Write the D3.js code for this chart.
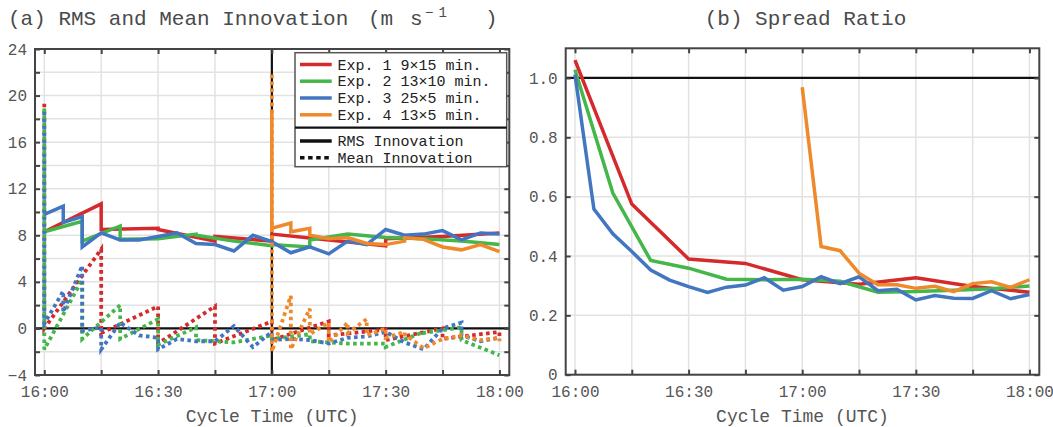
<!DOCTYPE html>
<html>
<head>
<meta charset="utf-8">
<script src="https://cdn.jsdelivr.net/npm/d3@7/dist/d3.min.js"></script>
<style>
  body { margin: 0; background: #fff; }
  svg { display: block; font-family: "Liberation Mono", "DejaVu Sans Mono", monospace; }
</style>
</head>
<body>
<div id="chart"></div>
<script>
// Data: times are minutes after 16:00 UTC
var times1 = [0, 15, 30, 45, 60, 75, 90, 105, 120];
var times2 = [0, 10, 20, 30, 40, 50, 60, 70, 80, 90, 100, 110, 120];
var times3 = [0, 5, 10, 15, 20, 25, 30, 35, 40, 45, 50, 55, 60, 65, 70, 75, 80, 85, 90, 95, 100, 105, 110, 115, 120];
var times4 = [60, 65, 70, 75, 80, 85, 90, 95, 100, 105, 110, 115, 120];

// RMS innovation, prior and posterior at each cycle (m/s); null = not plotted
var rms1Prior = [null, 10.7, 8.6, 7.5, 7.5, 7.6, 7.1, 7.9, 8.2];
var rms1Post  = [8.3, 8.5, 8.5, 7.9, 8.1, 7.6, 7.7, 7.9, 8.2];
var rms2Prior = [null, 9.2, 8.8, 7.7, 8.1, 7.5, 7.1, 7.0, 8.1, 7.8, 7.7, 7.5, 7.2];
var rms2Post  = [8.3, 7.5, 7.65, 7.7, 8.0, 7.5, 7.2, 7.6, 8.1, 7.8, 7.7, 7.5, 7.2];
var rms3Prior = [null, 10.5, 9.6, 8.2, 7.6, 7.6, 7.9, 8.2, 7.3, 7.2, 6.65, 8.0, 7.45, 6.5, 7.0, 6.4, 7.5, 7.2, 8.5, 8.0, 8.1, 8.4, 7.6, 8.2, 8.1];
var rms3Post  = [9.8, 9.1, 7.0, 8.2, 7.6, 7.6, 7.9, 8.2, 7.3, 7.2, 6.65, 8.0, 7.45, 6.5, 7.0, 6.4, 7.5, 7.2, 8.5, 8.0, 8.1, 8.4, 7.6, 8.2, 8.1];
var rms4Prior = [18.7, 9.05, 8.6, 7.7, 7.8, 7.3, 7.2, 7.5, 7.65, 7.0, 6.75, 7.2, 6.6];
var rms4Post  = [8.6, 8.3, 8.0, 7.7, 7.8, 7.3, 7.2, 7.8, 7.65, 7.0, 6.75, 7.2, 6.6];

// Mean innovation, prior and posterior (m/s)
var mean1Prior = [19.3, 6.8, 1.9, 1.9, 0.6, 0.6, -0.1, 0.0, -0.3];
var mean1Post  = [0.0, -0.4, -1.3, -1.3, -1.0, -0.6, -1.0, -0.9, -1.0];
var mean2Prior = [18.9, 4.2, 2.0, 0.8, 0.1, -1.2, -0.6, -0.5, -1.3, -1.3, -0.3, 0.1, -2.3];
var mean2Post  = [-1.8, -0.9, -0.9, -1.4, -1.0, -1.2, -0.9, -1.1, -1.3, -1.6, -0.4, -1.0, -2.3];
var mean3Prior = [18.9, 3.2, 5.4, 0.1, 0.5, -0.6, -0.8, -0.9, -1.1, -1.1, 0.2, -1.6, -0.3, -0.9, -1.0, -1.3, -0.8, -0.7, -0.3, -1.2, -1.8, 0.0, 0.5, -1.1, -0.8];
var mean3Post  = [0.4, 1.4, -0.2, -1.8, 0.5, -0.6, -1.8, -0.9, -1.1, -1.1, 0.2, -1.6, -1.0, -0.9, -1.0, -1.3, -0.8, -0.7, -0.3, -1.2, -1.8, 0.0, -0.6, -1.1, -0.8];
var mean4Prior = [21.8, 2.8, 1.7, 0.5, 0.5, 0.8, 0.0, -0.3, -1.7, -0.9, -0.6, -1.0, -0.8];
var mean4Post  = [-2.0, -1.8, -0.5, -1.2, -0.4, -0.6, -0.8, -0.5, -1.7, -0.9, -0.6, -1.0, -1.1];

// Spread ratio
var spread1 = [1.06, 0.575, 0.39, 0.375, 0.32, 0.305, 0.327, 0.297, 0.278];
var spread2 = [1.028, 0.612, 0.385, 0.359, 0.322, 0.32, 0.322, 0.315, 0.278, 0.28, 0.285, 0.29, 0.299];
var spread3 = [1.012, 0.558, 0.475, 0.415, 0.353, 0.319, 0.297, 0.277, 0.295, 0.302, 0.327, 0.285, 0.297, 0.33, 0.307, 0.33, 0.283, 0.288, 0.252, 0.267, 0.258, 0.257, 0.283, 0.256, 0.27];
var spread4 = [0.969, 0.432, 0.418, 0.342, 0.303, 0.303, 0.291, 0.298, 0.28, 0.307, 0.313, 0.294, 0.32];

var expNames = ["Exp. 1 9\u00d715 min.", "Exp. 2 13\u00d710 min.", "Exp. 3 25\u00d75 min.", "Exp. 4 13\u00d75 min."];
var expColors = ["#d42a2c", "#45b649", "#4276c0", "#ee8a2c"];
var xTicks = [0, 15, 30, 45, 60, 75, 90, 105, 120];
var leftYTicks = [-4, -2, 0, 2, 4, 6, 8, 10, 12, 14, 16, 18, 20, 22, 24];
var rightYTicks = [0, 0.2, 0.4, 0.6, 0.8, 1.0];

// Configuration
var width = 1053, height = 427;
var frameColor = "#444";
var textColor = "#555";
var gridColor = "#e2e2e2";
var lineWidth = 3.5;
var dots = "3.6,3.4";
var dotOffsets = [0, 0, 3.5, 0];   // so the stacked 16:00 spikes alternate colours

var svg = d3.select("#chart").append("svg")
    .attr("width", width)
    .attr("height", height);

var leftX = d3.scaleLinear().domain([-2.45, 122.6]).range([35, 509.3]);
var leftY = d3.scaleLinear().domain([-4, 24]).range([375, 49]);
var rightX = d3.scaleLinear().domain([-2.45, 122.6]).range([565.7, 1039.3]);
var rightY = d3.scaleLinear().domain([0, 1.1]).range([374.7, 48.3]);

function timeLabel(m) {
    if (m % 30 != 0) return "";
    var h = 16 + Math.floor(m / 60);
    var mm = m % 60;
    return h + ":" + (mm < 10 ? "0" + mm : mm);
}

/**
 * Build a sawtooth series: prior then posterior at each cycle time
 */
function sawtooth(times, prior, post) {
    var pts = [];
    for (var i = 0; i < times.length; i++) {
        if (prior[i] != null) pts.push([times[i], prior[i]]);
        pts.push([times[i], post[i]]);
    }
    return pts;
}

function simple(times, vals) {
    return times.map(function(t, i) { return [t, vals[i]]; });
}

/**
 * Light grid of one panel
 */
function drawGrid(g, x, y, yTicks) {
    var x0 = x.range()[0], x1 = x.range()[1];
    var y0 = y.range()[1], y1 = y.range()[0];

    g.append("g")
        .selectAll("line")
        .data(xTicks)
        .enter().append("line")
        .attr("x1", function(d) { return x(d); })
        .attr("x2", function(d) { return x(d); })
        .attr("y1", y0).attr("y2", y1)
        .attr("stroke", gridColor).attr("stroke-width", 1.5);

    g.append("g")
        .selectAll("line")
        .data(yTicks)
        .enter().append("line")
        .attr("x1", x0).attr("x2", x1)
        .attr("y1", function(d) { return y(d); })
        .attr("y2", function(d) { return y(d); })
        .attr("stroke", gridColor).attr("stroke-width", 1.5);
}

/**
 * Frame, inward ticks on all four sides, tick labels and x label
 */
function drawAxes(g, x, y, yTicks, yLabel) {
    var x0 = x.range()[0], x1 = x.range()[1];
    var y0 = y.range()[1], y1 = y.range()[0];

    g.append("rect")
        .attr("x", x0).attr("y", y0)
        .attr("width", x1 - x0).attr("height", y1 - y0)
        .attr("fill", "none")
        .attr("stroke", frameColor).attr("stroke-width", 2);

    var axes = [
        g.append("g").attr("transform", "translate(0," + y1 + ")")
            .call(d3.axisBottom(x).tickValues(xTicks).tickSize(-5).tickPadding(11).tickFormat(timeLabel)),
        g.append("g").attr("transform", "translate(0," + y0 + ")")
            .call(d3.axisTop(x).tickValues(xTicks).tickSize(-5).tickFormat("")),
        g.append("g").attr("transform", "translate(" + x0 + ",0)")
            .call(d3.axisLeft(y).tickValues(yTicks).tickSize(-5).tickPadding(8).tickFormat(yLabel)),
        g.append("g").attr("transform", "translate(" + x1 + ",0)")
            .call(d3.axisRight(y).tickValues(yTicks).tickSize(-5).tickFormat(""))
    ];
    axes.forEach(function(a) {
        a.select(".domain").remove();
        a.selectAll(".tick line").attr("stroke", frameColor).attr("stroke-width", 2);
        a.selectAll(".tick text")
            .attr("fill", textColor)
            .style("font-family", "'Liberation Mono', monospace")
            .style("font-size", "16px");
    });

    g.append("text")
        .attr("x", (x0 + x1) / 2)
        .attr("y", 422)
        .attr("text-anchor", "middle")
        .attr("fill", textColor)
        .style("font-size", "18px")
        .text("Cycle Time (UTC)");
}

function drawSeries(g, x, y, pts, color, dashed, offset) {
    var line = d3.line()
        .x(function(d) { return x(d[0]); })
        .y(function(d) { return y(d[1]); });
    g.append("path")
        .datum(pts)
        .attr("d", line)
        .attr("fill", "none")
        .attr("stroke", color)
        .attr("stroke-width", dashed ? 3.8 : lineWidth)
        .attr("stroke-linejoin", "miter")
        .attr("stroke-dasharray", dashed ? dots : null)
        .attr("stroke-dashoffset", dashed ? offset : null);
}

// ---------- Panel (a) ----------
var leftG = svg.append("g").attr("id", "panelA");
drawGrid(leftG, leftX, leftY, leftYTicks);

// reference lines at 0 and 17:00
leftG.append("line")
    .attr("x1", leftX.range()[0]).attr("x2", leftX.range()[1])
    .attr("y1", leftY(0)).attr("y2", leftY(0))
    .attr("stroke", "#111").attr("stroke-width", 2.2);
leftG.append("line")
    .attr("x1", leftX(60)).attr("x2", leftX(60))
    .attr("y1", leftY.range()[1]).attr("y2", leftY.range()[0])
    .attr("stroke", "#111").attr("stroke-width", 2.2);

var rmsSets = [
    sawtooth(times1, rms1Prior, rms1Post),
    sawtooth(times2, rms2Prior, rms2Post),
    sawtooth(times3, rms3Prior, rms3Post),
    sawtooth(times4, rms4Prior, rms4Post)
];
var meanSets = [
    sawtooth(times1, mean1Prior, mean1Post),
    sawtooth(times2, mean2Prior, mean2Post),
    sawtooth(times3, mean3Prior, mean3Post),
    sawtooth(times4, mean4Prior, mean4Post)
];
// each experiment: RMS first, then its mean on top
for (var i = 0; i < 4; i++) {
    drawSeries(leftG, leftX, leftY, rmsSets[i], expColors[i], false);
    drawSeries(leftG, leftX, leftY, meanSets[i], expColors[i], true, dotOffsets[i]);
}

drawAxes(leftG, leftX, leftY, leftYTicks, function(d) {
    return d % 4 == 0 ? (d < 0 ? "\u2212" + (-d) : "" + d) : "";
});

// legend
var legendG = leftG.append("g").attr("id", "legend");
legendG.append("rect")
    .attr("x", 295).attr("y", 52.7)
    .attr("width", 211.7).attr("height", 114)
    .attr("fill", "#fff")
    .attr("stroke", "#555").attr("stroke-width", 1.5);
legendG.append("line")
    .attr("x1", 295).attr("x2", 506.7)
    .attr("y1", 127.7).attr("y2", 127.7)
    .attr("stroke", "#111").attr("stroke-width", 2.2);

var legendRows = [
    { label: expNames[0], color: expColors[0], dash: null, y: 64.5 },
    { label: expNames[1], color: expColors[1], dash: null, y: 81.2 },
    { label: expNames[2], color: expColors[2], dash: null, y: 98 },
    { label: expNames[3], color: expColors[3], dash: null, y: 114.8 },
    { label: "RMS Innovation", color: "#111", dash: null, y: 141 },
    { label: "Mean Innovation", color: "#111", dash: "4.5,3.6", y: 157.7 }
];
var rowG = legendG.selectAll(".legendRow")
    .data(legendRows)
    .enter().append("g")
    .attr("class", "legendRow");
rowG.append("line")
    .attr("x1", 300).attr("x2", 331.7)
    .attr("y1", function(d) { return d.y; })
    .attr("y2", function(d) { return d.y; })
    .attr("stroke", function(d) { return d.color; })
    .attr("stroke-width", 3.5)
    .attr("stroke-dasharray", function(d) { return d.dash; });
rowG.append("text")
    .attr("x", 337.5)
    .attr("y", function(d) { return d.y; })
    .attr("dy", "0.35em")
    .attr("fill", "#222")
    .style("font-size", "15px")
    .text(function(d) { return d.label; });

// title (a), unit part spaced out as in the original
var titleA = svg.append("text")
    .attr("x", 8)
    .attr("y", 25)
    .attr("fill", "#4a4a4a")
    .style("font-size", "21px");
titleA.append("tspan").text("(a) RMS and Mean Innovation");
titleA.append("tspan").attr("x", 368).text("(m");
titleA.append("tspan").attr("x", 410).text("s");
titleA.append("tspan").attr("x", 425).attr("dy", -8).style("font-size", "14px").style("letter-spacing", "5px").text("\u22121");
titleA.append("tspan").attr("x", 485).attr("dy", 8).text(")");

// ---------- Panel (b) ----------
var rightG = svg.append("g").attr("id", "panelB");
drawGrid(rightG, rightX, rightY, rightYTicks);

rightG.append("line")
    .attr("x1", rightX.range()[0]).attr("x2", rightX.range()[1])
    .attr("y1", rightY(1)).attr("y2", rightY(1))
    .attr("stroke", "#111").attr("stroke-width", 2.2);

var spreadSets = [
    simple(times1, spread1),
    simple(times2, spread2),
    simple(times3, spread3),
    simple(times4, spread4)
];
for (var i = 0; i < 4; i++) {
    drawSeries(rightG, rightX, rightY, spreadSets[i], expColors[i], false);
}

drawAxes(rightG, rightX, rightY, rightYTicks, function(d) {
    return d == 0 ? "0" : d3.format(".1f")(d);
});

svg.append("text")
    .attr("x", (rightX.range()[0] + rightX.range()[1]) / 2 + 3)
    .attr("y", 25)
    .attr("text-anchor", "middle")
    .attr("fill", "#4a4a4a")
    .style("font-size", "21px")
    .text("(b) Spread Ratio");
</script>
</body>
</html>
